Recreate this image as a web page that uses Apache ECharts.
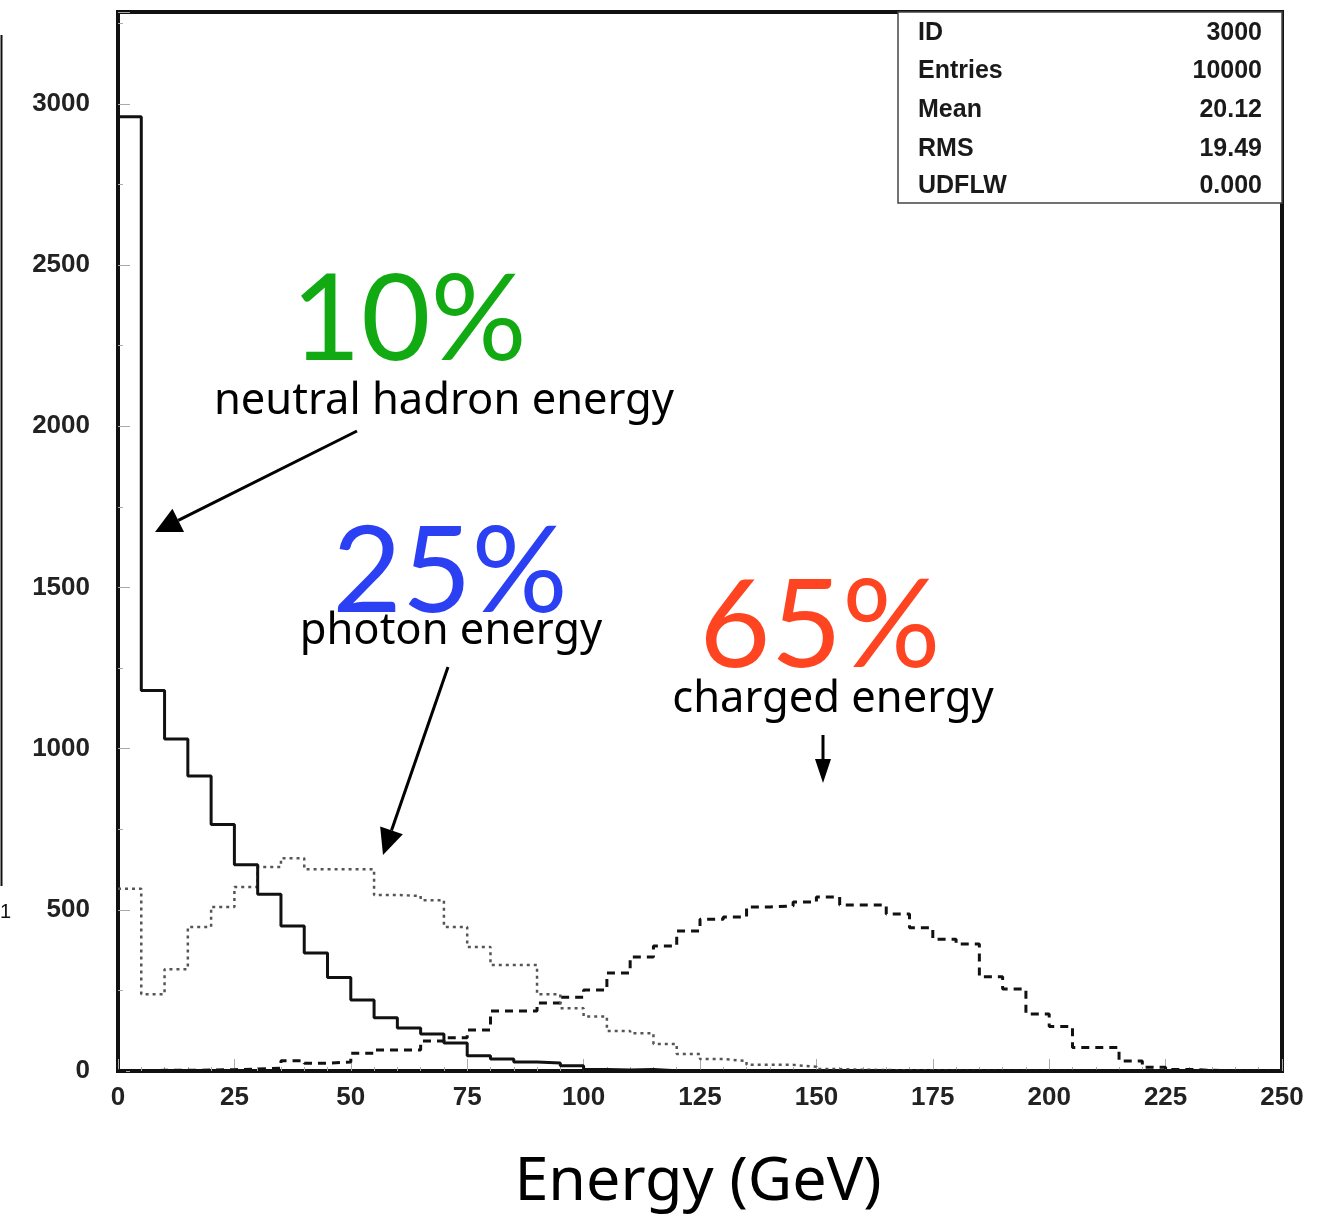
<!DOCTYPE html>
<html>
<head>
<meta charset="utf-8">
<title>Energy (GeV)</title>
<script src="https://cdn.jsdelivr.net/npm/echarts@6/dist/echarts.min.js"></script>
<style>
  html, body { margin: 0; padding: 0; background: #ffffff; }
  #chart { width: 1337px; height: 1216px; }
</style>
</head>
<body>
<div id="chart"></div>
<script>
// Lower edges of the 5 GeV energy bins
const binStart = [
  0, 5, 10, 15, 20, 25, 30, 35, 40, 45,
  50, 55, 60, 65, 70, 75, 80, 85, 90, 95,
  100, 105, 110, 115, 120, 125, 130, 135, 140, 145,
  150, 155, 160, 165, 170, 175, 180, 185, 190, 195,
  200, 205, 210, 215, 220, 225, 230, 235, 240, 245
];
const binEnd = 250;

// Neutral hadron energy (solid)
const neutralCounts = [
  2960, 1180, 1030, 915, 765, 640, 548, 450, 366, 290,
  220, 165, 133, 115, 87, 47, 37, 28, 25, 16,
  5, 3, 5, 1, 0, 0, 0, 0, 0, 0,
  0, 0, 0, 0, 0, 0, 0, 0, 0, 0,
  0, 0, 0, 0, 0, 0, 0, 0, 0, 0
];

// Photon energy (dotted)
const photonCounts = [
  565, 238, 316, 447, 509, 571, 633, 660, 626, 626,
  626, 546, 543, 530, 447, 385, 329, 329, 238, 195,
  169, 124, 117, 84, 53, 37, 31, 19, 19, 13,
  6, 4, 3, 2, 2, 1, 1, 0, 0, 0,
  0, 0, 0, 0, 0, 0, 0, 0, 0, 0
];

// Charged energy (dashed)
const chargedCounts = [
  1, 2, 2, 3, 4, 6, 9, 32, 24, 28,
  55, 65, 65, 93, 103, 127, 186, 186, 211, 229,
  251, 304, 354, 388, 434, 471, 478, 509, 512, 524,
  540, 515, 515, 487, 444, 409, 394, 292, 254, 177,
  138, 73, 73, 31, 12, 5, 2, 1, 0, 0
];

// Statistics box rows
const statLabels = ['ID', 'Entries', 'Mean', 'RMS', 'UDFLW'];
const statValues = ['3000', '10000', '20.12', '19.49', '0.000'];

// Step outline points: each bin's left edge with its count, closed at the last edge
function stepPoints(counts) {
  const pts = binStart.map((x, i) => [x, counts[i]]);
  pts.push([binEnd, counts[counts.length - 1]]);
  return pts;
}

const chart = echarts.init(document.getElementById('chart'), null, { renderer: 'canvas' });

const gridLeft = 118, gridRight = 1282, gridTop = 12, gridBottom = 1071;

const labelFont = '"Liberation Sans", Arial, Helvetica, sans-serif';
const noteFont = '"Noto Sans", "Open Sans", "DejaVu Sans", sans-serif';
const bigFont = 'Lato, "Noto Sans", sans-serif';

function arrow(x1, y1, x2, y2, headLen, headW) {
  const dx = x2 - x1, dy = y2 - y1;
  const len = Math.sqrt(dx * dx + dy * dy);
  const ux = dx / len, uy = dy / len;
  const bx = x2 - ux * headLen, by = y2 - uy * headLen;
  const px = -uy * headW / 2, py = ux * headW / 2;
  return [
    { type: 'line', z: 20, shape: { x1: x1, y1: y1, x2: bx, y2: by },
      style: { stroke: '#000', lineWidth: 3 } },
    { type: 'polygon', z: 20,
      shape: { points: [[x2, y2], [bx + px, by + py], [bx - px, by - py]] },
      style: { fill: '#000' } }
  ];
}

const graphics = [];

// Stray axis edge on the far left
graphics.push({ type: 'line', z: 5, shape: { x1: 1.5, y1: 35, x2: 1.5, y2: 886 },
  style: { stroke: '#111', lineWidth: 2 } });
graphics.push({ type: 'text', z: 5, style: { text: '1', x: 0, y: 912, font: '20px ' + labelFont,
  fill: '#111', textAlign: 'left', textVerticalAlign: 'middle' } });

// Statistics box
graphics.push({ type: 'rect', z: 10,
  shape: { x: 898, y: gridTop, width: gridRight - 898, height: 203 - gridTop },
  style: { fill: '#fff', stroke: '#444', lineWidth: 1.5 } });
const rowY = [33, 71, 110, 149, 186];
statLabels.forEach((t, i) => {
  graphics.push({ type: 'text', z: 11, style: { text: t, x: 918, y: rowY[i],
    font: 'bold 25px ' + labelFont, fill: '#1a1a1a', textAlign: 'left', textVerticalAlign: 'middle' } });
  graphics.push({ type: 'text', z: 11, style: { text: statValues[i], x: 1262, y: rowY[i],
    font: 'bold 25px ' + labelFont, fill: '#1a1a1a', textAlign: 'right', textVerticalAlign: 'middle' } });
});

// Annotations
function note(text, x, y, font, color) {
  graphics.push({ type: 'text', z: 15, style: { text: text, x: x, y: y,
    font: font, fill: color, textAlign: 'center', textVerticalAlign: 'middle' } });
}
note('10%', 409, 321, '120px ' + bigFont, '#12aa12');
note('neutral hadron energy', 444, 402, '43.5px ' + noteFont, '#000');
note('25%', 450, 573, '120px ' + bigFont, '#2b3ff3');
note('photon energy', 451, 632, '43.5px ' + noteFont, '#000');
note('65%', 820, 627, '123px ' + bigFont, '#ff4422');
note('charged energy', 833, 700, '43.5px ' + noteFont, '#000');
note('Energy (GeV)', 698, 1183, '61px ' + noteFont, '#000');

graphics.push(...arrow(357, 431, 155, 532, 26, 26));
graphics.push(...arrow(448, 667, 383, 855, 26, 24));
graphics.push(...arrow(823, 735, 823, 783, 24, 16));

chart.setOption({
  animation: false,
  backgroundColor: '#ffffff',
  grid: {
    left: gridLeft, right: 1337 - gridRight, top: gridTop, bottom: 1216 - gridBottom,
    show: true, borderColor: '#111', borderWidth: 4, backgroundColor: 'transparent'
  },
  xAxis: {
    type: 'value', min: 0, max: 250, interval: 25,
    axisLine: { show: true, onZero: false, lineStyle: { color: '#111', width: 4 } },
    axisTick: { show: true, inside: true, length: 12, lineStyle: { color: '#aaa', width: 1 } },
    minorTick: { show: true, splitNumber: 5, length: 4, lineStyle: { color: '#aaa', width: 1 } },
    splitLine: { show: false },
    axisLabel: { margin: 14, fontFamily: labelFont, fontWeight: 'bold', fontSize: 26, color: '#222' }
  },
  yAxis: {
    type: 'value', min: 0, max: 3285, interval: 500,
    axisLine: { show: true, onZero: false, lineStyle: { color: '#111', width: 4 } },
    axisTick: { show: true, inside: true, length: 12, lineStyle: { color: '#aaa', width: 1 } },
    minorTick: { show: true, splitNumber: 2, length: 5, lineStyle: { color: '#aaa', width: 1 } },
    splitLine: { show: false },
    axisLabel: { margin: 28, showMaxLabel: false, formatter: v => String(v),
      fontFamily: labelFont, fontWeight: 'bold', fontSize: 26, color: '#222' }
  },
  series: [
    { name: 'charged energy', type: 'line', step: 'end', showSymbol: false, z: 3,
      data: stepPoints(chargedCounts),
      lineStyle: { color: '#111', width: 3, type: [8, 6] } },
    { name: 'photon energy', type: 'line', step: 'end', showSymbol: false, z: 3,
      data: stepPoints(photonCounts),
      lineStyle: { color: '#555', width: 2.5, type: [3, 4] } },
    { name: 'neutral hadron energy', type: 'line', step: 'end', showSymbol: false, z: 4,
      data: stepPoints(neutralCounts),
      lineStyle: { color: '#111', width: 3 } }
  ],
  graphic: graphics
});
</script>
</body>
</html>
